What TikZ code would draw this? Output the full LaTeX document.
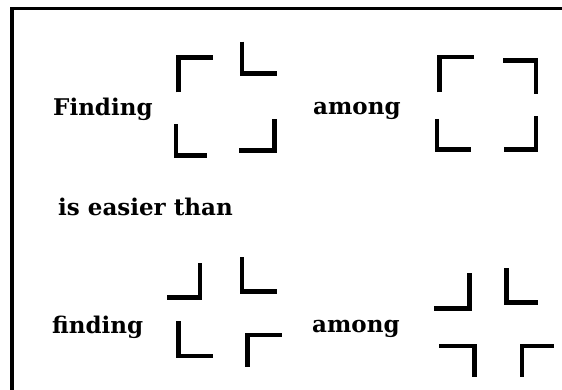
\documentclass[tikz,border=0pt]{standalone}
\usepackage{fontspec}
\setmainfont{DejaVu Serif}
\begin{document}
\begin{tikzpicture}[x=1pt,y=-1pt,
  frameline/.style={line width=3.6pt,line cap=butt,line join=miter},
  cornerline/.style={line width=4.6pt,line cap=butt,line join=miter},
  word/.style={anchor=base west,inner sep=0pt,font=\fontsize{23}{28}\selectfont\bfseries}]
\useasboundingbox (0,0) rectangle (562,390);
\fill[white] (0,0) rectangle (562,390);
% frame (clipped by the page on the right and bottom)
\draw[frameline] (11.7,390) -- (11.7,8.7) -- (562,8.7);
% texts
\node[word] (t1) at (53,116) {Finding};
\node[word] (t2) at (313,115) {among};
\node[word] (t3) at (58,215) {is easier than};
\node[word] (t4) at (52,333) {finding};
\node[word] (t5) at (312,332) {among};
% figure 1: corners of a square (one misaligned)
\draw[cornerline] (178.3,92.3) -- (178.3,57.5) -- (212.7,57.5);
\draw[cornerline] (242,41.7) -- (242,73.3) -- (276.7,73.3);
\draw[cornerline] (175.8,124.3) -- (175.8,155.8) -- (207.3,155.8);
\draw[cornerline] (239.3,150.5) -- (274.5,150.5) -- (274.5,119);
% figure 2: corners of a square
\draw[cornerline] (439.7,92.3) -- (439.7,57.2) -- (474,57.2);
\draw[cornerline] (503.3,60.5) -- (535.8,60.5) -- (535.8,94.3);
\draw[cornerline] (436.8,119) -- (436.8,149.5) -- (471,149.5);
\draw[cornerline] (504,149.5) -- (535.8,149.5) -- (535.8,116);
% figure 3: cross corners (one misaligned)
\draw[cornerline] (167.3,297.5) -- (199.8,297.5) -- (199.8,262.7);
\draw[cornerline] (241.8,257.3) -- (241.8,291.7) -- (277.3,291.7);
\draw[cornerline] (178.2,321) -- (178.2,355.8) -- (213.3,355.8);
\draw[cornerline] (247.5,366.7) -- (247.5,335) -- (282.3,335);
% figure 4: cross corners
\draw[cornerline] (434,308.3) -- (469.2,308.3) -- (469.2,273.3);
\draw[cornerline] (506.5,268.3) -- (506.5,302.5) -- (538.3,302.5);
\draw[cornerline] (439.3,345.8) -- (474.2,345.8) -- (474.2,376.7);
\draw[cornerline] (521.8,376.7) -- (521.8,345.8) -- (554.3,345.8);
\end{tikzpicture}
\end{document}
